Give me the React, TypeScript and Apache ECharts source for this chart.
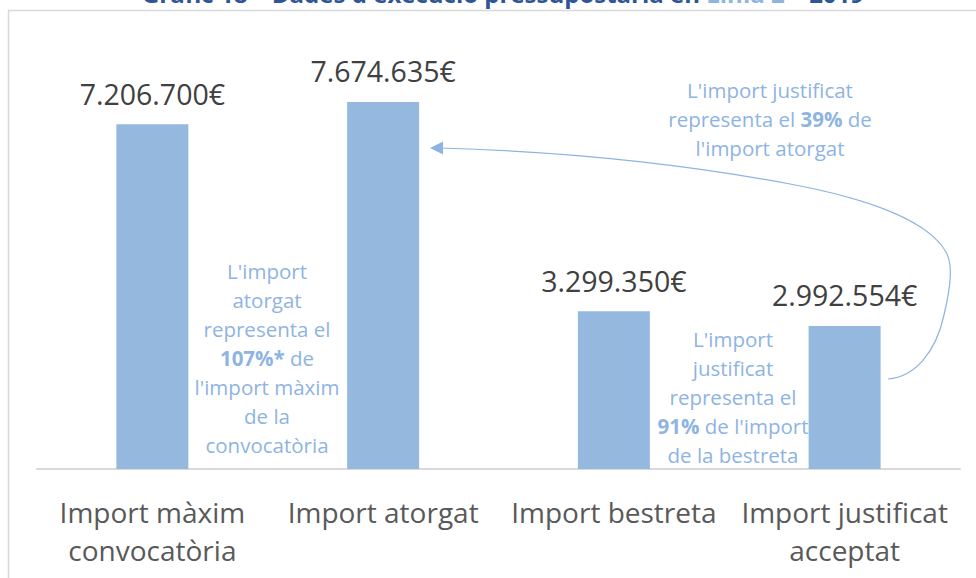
import React, { useEffect, useRef } from "react";
import * as echarts from "echarts";

const categories = [
  "Import màxim\nconvocatòria",
  "Import atorgat",
  "Import bestreta",
  "Import justificat\nacceptat",
];
const values = [7206700, 7674635, 3299350, 2992554];

const titleMain = "Gràfic 18 – Dades d'execució pressupostària en ";
const titleHighlight = "Línia 2";
const titleEnd = " – 2019";

const note1 = "L'import\natorgat\nrepresenta el\n{b|107%*} de\nl'import màxim\nde la\nconvocatòria";
const note2 = "L'import\njustificat\nrepresenta el\n{b|91%} de l'import\nde la bestreta";
const note3 = "L'import justificat\nrepresenta el {b|39%} de\nl'import atorgat";

const arrowPath =
  "M 888 379 C 915 377 936 352 944 315 C 951 285 953 265 946 252 C 928 220 865 198 790 184 C 700 167 580 152 440 148";

const fmt = (v: number) => String(v).replace(/\B(?=(\d{3})+(?!\d))/g, ".") + "€";

export default function App() {
  const ref = useRef<HTMLDivElement>(null);
  useEffect(() => {
    if (!ref.current) return;
    try {
      echarts.graphic.registerShape("arrowCurve", echarts.graphic.extendPath(arrowPath, {}) as any);
    } catch (e) {}
    const chart = echarts.init(ref.current, null, { renderer: "svg" });
    const noteColor = "#8eb4e2";
    const font = "'Open Sans', sans-serif";
    const noteStyle = (text: string, x: number, y: number) => ({
      type: "text",
      x,
      y,
      z: 10,
      style: {
        text,
        x: 0,
        y: 0,
        align: "center",
        verticalAlign: "top",
        fontFamily: font,
        fontSize: 20.5,
        lineHeight: 29,
        fill: noteColor,
        rich: {
          b: { fontWeight: "bold", fontFamily: font, fontSize: 20.5, lineHeight: 29, fill: noteColor, color: noteColor },
        },
      },
    });
    chart.setOption({
      animation: false,
      backgroundColor: "#ffffff",
      grid: { left: 37, right: 16, top: 86.43, bottom: 109 },
      xAxis: {
        type: "category",
        data: categories,
        axisLine: { lineStyle: { color: "#d9d9d9", width: 2 } },
        axisTick: { show: false },
        axisLabel: {
          interval: 0,
          margin: 24,
          color: "#595959",
          fontFamily: font,
          fontSize: 28,
          lineHeight: 38,
        },
      },
      yAxis: {
        type: "value",
        min: 0,
        max: 8000000,
        show: false,
        splitLine: { show: false },
      },
      series: [
        {
          type: "bar",
          data: values,
          barWidth: 72,
          itemStyle: { color: "#95b8df" },
          label: {
            show: true,
            position: "top",
            distance: 16,
            formatter: (p: any) => fmt(p.value),
            color: "#404040",
            fontFamily: font,
            fontSize: 28.5,
          },
        },
      ],
      graphic: [
        {
          type: "rect",
          shape: { x: 8.5, y: 10.5, width: 1000, height: 600 },
          style: { fill: "none", stroke: "#d9d9d9", lineWidth: 1.5 },
          z: 1,
        },
        {
          type: "text",
          x: 503,
          y: 5,
          style: {
            text: "{m|" + titleMain + "}{h|" + titleHighlight + "}{m|" + titleEnd + "}",
            align: "center",
            verticalAlign: "bottom",
            rich: {
              m: { fontFamily: font, fontSize: 24, fontWeight: "bold", fill: "#2f5597", color: "#2f5597" },
              h: { fontFamily: font, fontSize: 24, fontWeight: "bold", fill: "#8eb4e2", color: "#8eb4e2" },
            },
          },
        },
        noteStyle(note1, 267, 256),
        noteStyle(note2, 733, 324),
        noteStyle(note3, 770, 75),
        {
          type: "arrowCurve",
          x: 0,
          y: 0,
          z: 5,
          style: { fill: "none", stroke: "#8eb4e2", lineWidth: 1.2 },
        },
        {
          type: "polygon",
          z: 5,
          shape: { points: [[430, 148], [443, 141.5], [443, 154.5]] },
          style: { fill: "#8eb4e2" },
        },
      ],
    });
    return () => chart.dispose();
  }, []);
  return (
    <div
      ref={ref}
      style={{ position: "fixed", left: 0, top: 0, width: 976, height: 578 }}
    />
  );
}
